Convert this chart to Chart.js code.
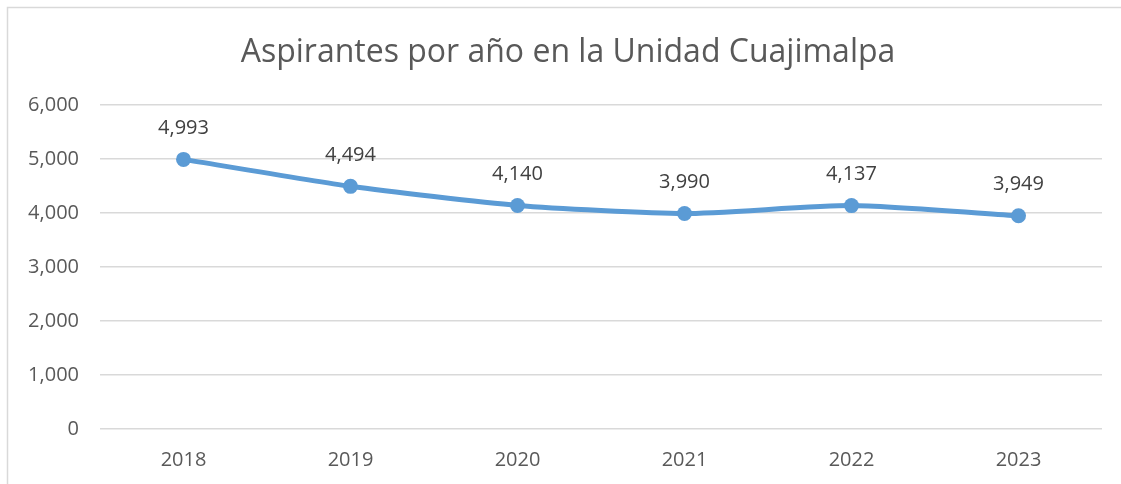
<!DOCTYPE html>
<html>
<head>
<meta charset="utf-8">
<script src="https://cdn.jsdelivr.net/npm/chart.js@4"></script>
<style>
html,body{margin:0;padding:0;background:#fff;}
#wrap{width:1121px;height:484px;position:relative;}
</style>
</head>
<body>
<div id="wrap"><canvas id="c" width="1121" height="484"></canvas></div>
<script>
const categories = ['2018', '2019', '2020', '2021', '2022', '2023'];
const aspirantes = [4993, 4494, 4140, 3990, 4137, 3949];
const yTicks = [0, 1000, 2000, 3000, 4000, 5000, 6000];
const titleText = 'Aspirantes por año en la Unidad Cuajimalpa';

const FONT = "'Open Sans', 'DejaVu Sans', sans-serif";
const fmt = v => v.toLocaleString('en-US');

const frame = {
  id: 'frame',
  beforeDraw(chart) {
    const ctx = chart.ctx;
    ctx.save();
    ctx.fillStyle = '#fff';
    ctx.fillRect(0, 0, chart.width, chart.height);
    ctx.strokeStyle = '#d9d9d9';
    ctx.lineWidth = 1.5;
    ctx.strokeRect(7.5, 7.5, chart.width + 20, chart.height + 20);
    ctx.restore();
  },
  afterDraw(chart) {
    const ctx = chart.ctx;
    ctx.save();
    ctx.font = '32px ' + FONT;
    ctx.fillStyle = '#595959';
    ctx.textAlign = 'center';
    ctx.textBaseline = 'alphabetic';
    ctx.fillText(titleText, 568, 62);
    ctx.restore();
  }
};

const labels = {
  id: 'valueLabels',
  afterDatasetsDraw(chart) {
    const ctx = chart.ctx;
    const meta = chart.getDatasetMeta(0);
    ctx.save();
    ctx.font = '20px ' + FONT;
    ctx.fillStyle = '#404040';
    ctx.textAlign = 'center';
    ctx.textBaseline = 'middle';
    meta.data.forEach((pt, i) => {
      ctx.fillText(fmt(aspirantes[i]), pt.x, pt.y - 31);
    });
    ctx.restore();
  }
};

new Chart(document.getElementById('c'), {
  type: 'line',
  data: {
    labels: categories,
    datasets: [{
      data: aspirantes,
      borderColor: '#5b9bd5',
      backgroundColor: '#5b9bd5',
      borderWidth: 5,
      pointRadius: 7.5,
      pointBorderWidth: 0,
      pointBackgroundColor: '#5b9bd5',
      tension: 0.2,
      fill: false
    }]
  },
  options: {
    responsive: false,
    animation: false,
    devicePixelRatio: 1,
    layout: { padding: { left: 0, right: 19, top: 105, bottom: 0 } },
    plugins: {
      legend: { display: false },
      tooltip: { enabled: false },
      title: { display: false }
    },
    scales: {
      x: {
        offset: true,
        grid: { display: false, drawTicks: false },
        border: { display: false },
        ticks: { color: '#595959', font: { family: FONT, size: 20 }, padding: 19 },
        afterFit(s) { s.height = 55; }
      },
      y: {
        min: 0,
        max: 6000,
        afterBuildTicks(s) { s.ticks = yTicks.map(v => ({ value: v })); },
        grid: { color: '#d9d9d9', lineWidth: 1.5, drawTicks: false },
        border: { display: false },
        ticks: { color: '#595959', font: { family: FONT, size: 20 }, padding: 21, callback: v => fmt(v) },
        afterFit(s) { s.width = 100; }
      }
    }
  },
  plugins: [frame, labels]
});
</script>
</body>
</html>
